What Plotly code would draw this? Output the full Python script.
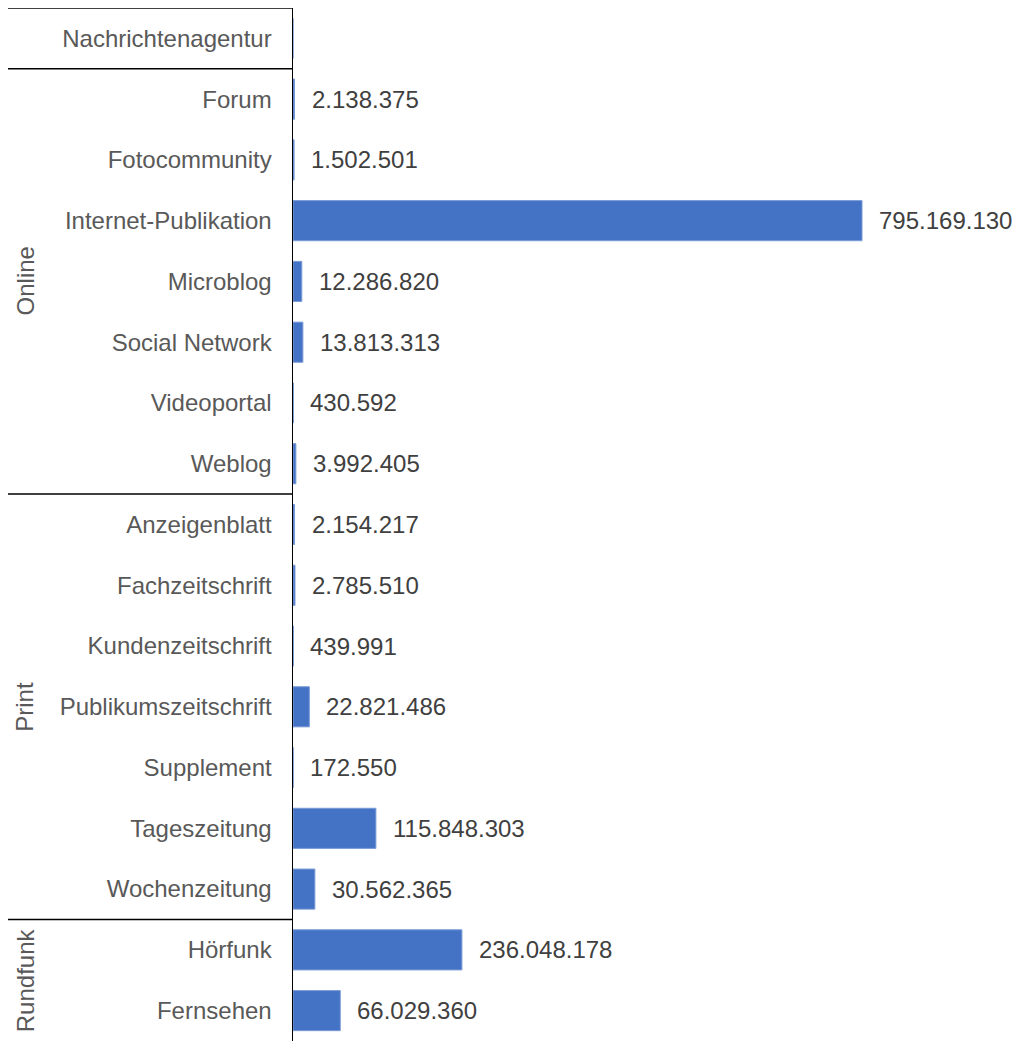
import plotly.graph_objects as go

categories = ["Nachrichtenagentur", "Forum", "Fotocommunity", "Internet-Publikation",
              "Microblog", "Social Network", "Videoportal", "Weblog",
              "Anzeigenblatt", "Fachzeitschrift", "Kundenzeitschrift",
              "Publikumszeitschrift", "Supplement", "Tageszeitung", "Wochenzeitung",
              "Hörfunk", "Fernsehen"]
values = [None, 2138375, 1502501, 795169130, 12286820, 13813313, 430592, 3992405,
          2154217, 2785510, 439991, 22821486, 172550, 115848303, 30562365,
          236048178, 66029360]
groups = ["Online", "Print", "Rundfunk"]
group_bounds = [(0.5, 7.5), (7.5, 14.5), (14.5, 16.5)]

W, H = 1016, 1041
ML, MR, MT, MB = 293, 0, 8, 0
pw = W - ML - MR
xmax = 795169130 * pw / 569.0

def fmt(v):
    return f"{v:,}".replace(",", ".")

FONT = "Liberation Sans, Arial, sans-serif"

fig = go.Figure(go.Bar(
    y=categories, x=[v if v is not None else 0 for v in values], orientation="h",
    marker=dict(color="#4472C4", line=dict(color="#7a9bd6", width=1)),
    hoverinfo="skip",
))

for c, v in zip(categories, values):
    if v is None:
        continue
    fig.add_annotation(x=v, y=c, xref="x", yref="y", text=fmt(v), showarrow=False,
                       xanchor="left", xshift=15,
                       font=dict(family=FONT, size=24, color="#404040"))

x_left = (8 - ML) / pw
for yb in [-0.5, 0.5, 7.5, 14.5]:
    fig.add_shape(type="line", xref="paper", yref="y", x0=x_left, x1=0, y0=yb, y1=yb,
                  line=dict(color="#000000", width=1.5))

for g, (a, b) in zip(groups, group_bounds):
    fig.add_annotation(x=(25 - ML) / pw, y=(a + b) / 2, xref="paper", yref="y", text=g,
                       showarrow=False, textangle=-90, xanchor="center", yanchor="middle",
                       font=dict(family=FONT, size=24, color="#595959"))

fig.update_layout(
    width=W, height=H, margin=dict(l=ML, r=MR, t=MT, b=MB, autoexpand=False),
    plot_bgcolor="white", paper_bgcolor="white", showlegend=False, bargap=0.34,
    font=dict(family=FONT, size=24, color="#595959"),
)
fig.update_xaxes(range=[0, xmax], visible=False)
fig.update_yaxes(type="category", categoryorder="array", categoryarray=categories,
                 range=[16.5, -0.5], showline=True, linecolor="#000000", linewidth=1.5,
                 ticks="", showgrid=False, zeroline=False, ticklabelstandoff=15,
                 automargin=False,
                 tickfont=dict(family=FONT, size=24, color="#595959"))

fig.write_html("out.html", config={"displayModeBar": False, "staticPlot": True},
               post_script="document.body.style.margin='0';document.body.style.overflow='hidden';")
